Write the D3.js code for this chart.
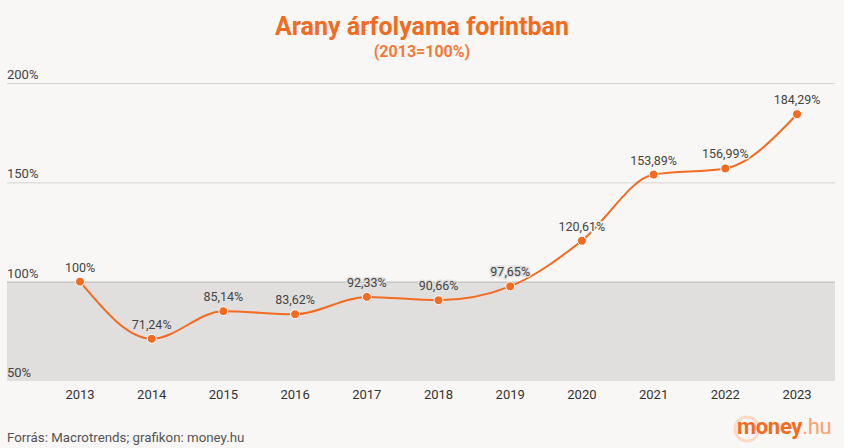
<!DOCTYPE html>
<html>
<head>
<meta charset="utf-8">
<script src="https://cdn.jsdelivr.net/npm/d3@7"></script>
<style>
	body { margin: 0; background: #f8f7f5; }
	svg { display: block; font-family: Roboto, sans-serif; }
</style>
</head>
<body>
<div id="chart"></div>
<script>
const years = ['2013', '2014', '2015', '2016', '2017', '2018', '2019', '2020', '2021', '2022', '2023'];
const values = [100, 71.24, 85.14, 83.62, 92.33, 90.66, 97.65, 120.61, 153.89, 156.99, 184.29];
const yTicks = [50, 100, 150, 200];

const width = 844;
const height = 448;
const orange = '#f26b21';
const bg = '#f8f7f5';

const fmt = (v) => (v === 100 ? '100' : v.toFixed(2).replace('.', ',')) + '%';

const svg = d3
	.select('#chart')
	.append('svg')
	.attr('width', width)
	.attr('height', height)
	.style('background', bg);

const data = years.map((y, i) => ({ year: y, value: values[i] }));

const xScale = d3.scalePoint().domain(years).range([ 80, 797 ]);
const yScale = d3.scaleLinear().domain([ 50, 200 ]).range([ 381, 83 ]);

// title
svg
	.append('text')
	.attr('x', width / 2)
	.attr('y', 35)
	.attr('text-anchor', 'middle')
	.style('font-size', '25px')
	.style('font-weight', 'bold')
	.style('fill', orange)
	.text('Arany árfolyama forintban');

svg
	.append('text')
	.attr('x', width / 2)
	.attr('y', 57)
	.attr('text-anchor', 'middle')
	.style('font-size', '16px')
	.style('font-weight', 'bold')
	.style('fill', '#f47a3a')
	.text('(2013=100%)');

// grey band below 100%
svg
	.append('rect')
	.attr('x', 7)
	.attr('y', yScale(100))
	.attr('width', 828)
	.attr('height', yScale(50) - yScale(100))
	.style('fill', '#e0dfde');

// gridlines + labels
const grid = svg.append('g');
grid
	.selectAll('line')
	.data(yTicks.filter((d) => d > 50))
	.join('line')
	.attr('x1', 7)
	.attr('x2', 835)
	.attr('y1', (d) => yScale(d) + 0.5)
	.attr('y2', (d) => yScale(d) + 0.5)
	.style('stroke', (d) => (d === 100 ? '#bbbbbb' : '#d4d4d4'))
	.style('stroke-width', 1);

grid
	.selectAll('text')
	.data(yTicks)
	.join('text')
	.attr('x', 7)
	.attr('y', (d) => yScale(d) - 4)
	.style('font-size', '13px')
	.style('fill', '#444')
	.text((d) => d + '%');

// x axis labels
svg
	.append('g')
	.selectAll('text')
	.data(years)
	.join('text')
	.attr('x', (d) => xScale(d))
	.attr('y', 399)
	.attr('text-anchor', 'middle')
	.style('font-size', '13px')
	.style('fill', '#333')
	.text((d) => d);

// line
const line = d3
	.line()
	.x((d) => xScale(d.year))
	.y((d) => yScale(d.value))
	.curve(d3.curveMonotoneX);

svg
	.append('path')
	.datum(data)
	.attr('d', line)
	.style('fill', 'none')
	.style('stroke', orange)
	.style('stroke-width', 2);

// value labels with halo
svg
	.append('g')
	.selectAll('text')
	.data(data)
	.join('text')
	.attr('x', (d) => xScale(d.year))
	.attr('y', (d) => yScale(d.value) - 10)
	.attr('text-anchor', 'middle')
	.style('font-size', '12.5px')
	.style('fill', '#444')
	.style('stroke', (d) => (d.value < 100 ? '#e0dfde' : bg))
	.style('stroke-width', 3)
	.style('paint-order', 'stroke')
	.text((d) => fmt(d.value));

// points
svg
	.append('g')
	.selectAll('circle')
	.data(data)
	.join('circle')
	.attr('cx', (d) => xScale(d.year))
	.attr('cy', (d) => yScale(d.value))
	.attr('r', 4.5)
	.style('fill', orange)
	.style('stroke', '#fff')
	.style('stroke-width', 1);

// footer
svg
	.append('text')
	.attr('x', 7)
	.attr('y', 442)
	.style('font-size', '13.3px')
	.style('fill', '#555')
	.text('Forrás: Macrotrends; grafikon: money.hu');

// logo
const logo = svg.append('g');
logo
	.append('circle')
	.attr('cx', 747)
	.attr('cy', 429)
	.attr('r', 12)
	.style('fill', 'none')
	.style('stroke', '#fbd9c4')
	.style('stroke-width', 3);
logo
	.append('text')
	.attr('x', 737)
	.attr('y', 434)
	.style('font-size', '22px')
	.style('letter-spacing', '-0.3px')
	.html(`<tspan style="font-weight:bold; fill:${orange}">money</tspan><tspan style="fill:#f9a36e">.hu</tspan>`);
</script>
</body>
</html>
